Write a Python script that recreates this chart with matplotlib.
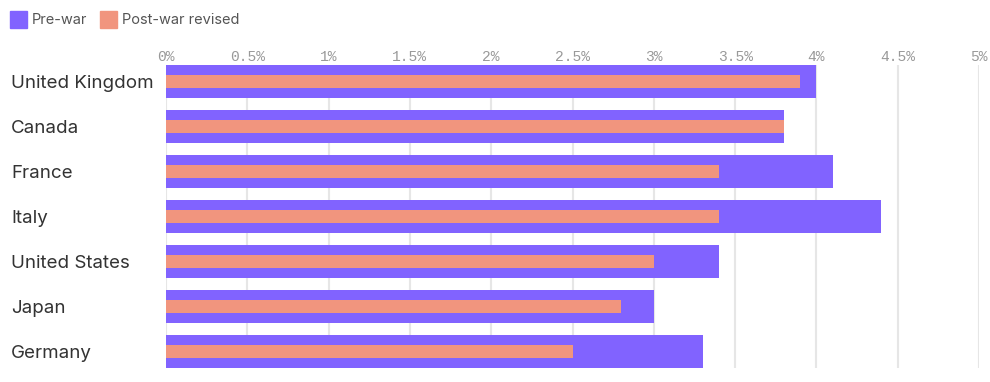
import matplotlib.pyplot as plt
from matplotlib.patches import Rectangle
from matplotlib.transforms import blended_transform_factory
import numpy as np

countries = ["United Kingdom", "Canada", "France", "Italy", "United States", "Japan", "Germany"]
pre_war = [4.0, 3.8, 4.1, 4.4, 3.4, 3.0, 3.3]
post_war = [3.9, 3.8, 3.4, 3.4, 3.0, 2.8, 2.5]
ticks = [0, 0.5, 1, 1.5, 2, 2.5, 3, 3.5, 4, 4.5, 5]
tick_labels = ["0%", "0.5%", "1%", "1.5%", "2%", "2.5%", "3%", "3.5%", "4%", "4.5%", "5%"]

PURPLE = "#8163FF"
SALMON = "#F1957E"

fig = plt.figure(figsize=(9.9, 3.82), dpi=100)
ax = fig.add_axes([166 / 990, 1 - 368 / 382, (979 - 166) / 990, (368 - 65) / 382])

y = np.arange(len(countries))
ax.barh(y, pre_war, height=0.733, color=PURPLE, zorder=2)
ax.barh(y, post_war, height=0.29, color=SALMON, zorder=3)

ax.set_xlim(0, 5)
ax.set_ylim(len(countries) - 1 + 0.367, -0.367)
ax.set_xticks(ticks)
ax.set_xticklabels(tick_labels, family="Liberation Mono", fontsize=10.5, color="#999999")
ax.xaxis.tick_top()
ax.tick_params(axis="x", length=0, pad=1)
ax.set_yticks([])

# country labels at the left edge of the figure
trans = blended_transform_factory(fig.transFigure, ax.transData)
for yi, name in zip(y, countries):
    ax.text(11 / 990, yi, name, transform=trans, family="Inter", fontsize=13.5,
            color="#333333", ha="left", va="center_baseline")

ax.grid(axis="x", color="#e6e6e6", linewidth=1.5, zorder=0)
for s in ax.spines.values():
    s.set_visible(False)

# legend
for x0, label, col in [(10, "Pre-war", PURPLE), (100, "Post-war revised", SALMON)]:
    fig.patches.append(Rectangle((x0 / 990, 1 - 28 / 382), 17 / 990, 17 / 382,
                                 transform=fig.transFigure, color=col))
    fig.text((x0 + 22) / 990, 1 - 20 / 382, label, family="Inter", fontsize=10.5,
             color="#555555", va="center", ha="left")

fig.savefig("out.png", dpi=100)
